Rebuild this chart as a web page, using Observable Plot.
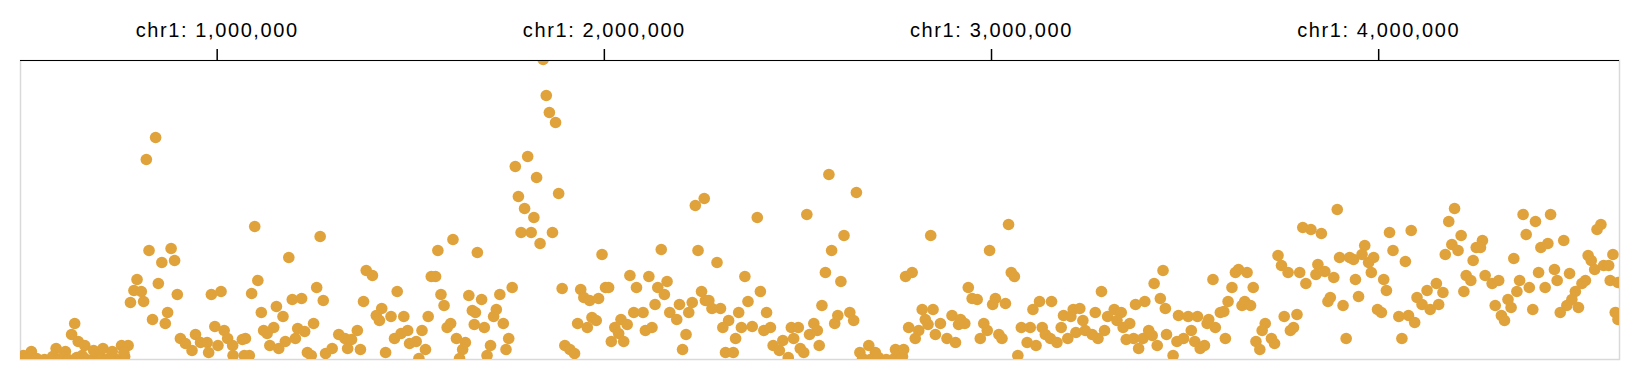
<!DOCTYPE html>
<html>
<head>
<meta charset="utf-8">
<script src="https://cdn.jsdelivr.net/npm/d3@7"></script>
<script src="https://cdn.jsdelivr.net/npm/@observablehq/plot@0.6"></script>
<style>
  html, body { margin: 0; padding: 0; background: #fff; }
  #chart svg { display: block; }
  #chart svg g[aria-label="x-axis tick label"] text { letter-spacing: 1.6px; }
</style>
</head>
<body>
<div id="chart"></div>
<script>
// genomic position (kb on chr1) and signal value for each bin
const points = [
  [841,222],[817,200],[824,109],[881,111],[857,97],[890,99],[793,80],[848,76],[785,69],[804,68],
  [776,57],[810,58],[897,65],[872,47],[833,40],[866,36],[985,65],[1010,68],[1089,66],[632,36],
  [624,25],[641,18],[658,14],[584,11],[608,8],[520,8],[500,4],
  [492,0],[513,2],[534,1],[554,0],[575,3],[596,1],[616,0],[637,2],[658,1],[678,0],[699,2],[720,1],[740,0],[761,3],
  [681,9],[705,11],[729,8],[753,14],[770,14],[759,7],[651,4],[905,21],[918,16],[944,25],
  [935,9],[957,17],[974,17],[978,7],[994,33],[1018,29],[1027,21],[1002,14],[1040,14],[1041,4],
  [1065,20],[1070,4],
  [1097,133],[1266,123],[1185,102],[1105,79],[1114,47],[1153,53],[1170,43],[1194,60],[1218,61],[1257,72],
  [1274,59],[1073,21],[1120,29],[1146,32],[1129,26],[1136,14],[1159,11],[1176,18],[1202,21],[1208,31],
  [1226,28],[1249,36],[1233,7],[1243,4],[1083,4],[1280,6],[1297,11],[1314,25],[1330,21],[1347,20],
  [1337,11],[1362,29],[1370,10],[1385,89],[1401,84],[1378,58],[1425,51],[1411,44],[1419,39],[1449,43],
  [1465,68],[1482,43],[1435,7],[1458,21],[1475,26],[1492,29],[1497,16],[1514,18],[1529,29],[1538,10],
  [1521,1],[1545,43],[1553,83],[1564,83],[1570,109],[1609,120],[1578,65],[1586,54],[1594,32],[1603,36],
  [1618,21],[1641,17],[1634,10],[1626,1],[1650,64],[1659,49],[1664,35],[1672,107],
  [1842,300],[1850,264],[1858,247],[1874,237],[1802,203],[1770,193],[1825,182],[1778,163],[1882,166],[1794,151],
  [1818,142],[1785,127],[1811,127],[1866,127],[1834,116],[1994,105],[2147,110],[2242,109],[2235,154],[2258,161],
  [1683,60],[1730,65],[1762,72],[1721,50],[1714,43],[1667,47],[1690,32],[1739,36],[1753,21],[1706,14],
  [1746,10],[1697,4],[1891,71],[1939,70],[1947,62],[1962,59],[1985,61],[2003,72],[2011,72],[1931,36],
  [1956,32],[1968,42],[1979,39],[1898,14],[1911,10],[1923,6],[2066,84],[2083,72],[2115,83],[2138,72],
  [2162,78],[2155,65],[2131,55],[2076,47],[2100,47],[2043,40],[2027,32],[2059,35],[2037,26],[2018,18],
  [2050,18],[2106,29],[2123,32],[2169,47],[2194,55],[2187,40],[2218,47],[2227,57],[2251,68],[2261,59],
  [2211,25],[2202,10],
  [2580,185],[2651,167],[2395,142],[2523,145],[2619,124],[2587,109],[2843,124],[2291,97],[2363,83],[2571,87],
  [2611,78],[2778,83],[2795,87],[2403,68],[2371,58],[2562,54],[2270,59],[2300,51],[2278,51],[2347,47],
  [2419,47],[2321,39],[2306,32],[2354,32],[2382,33],[2412,29],[2429,32],[2339,21],[2313,7],[2333,7],
  [2436,14],[2452,9],[2461,19],[2489,21],[2483,32],[2501,32],[2475,2],[2506,11],[2515,7],[2530,25],
  [2541,36],[2550,29],[2555,14],[2595,36],[2603,44],[2634,47],[2644,39],[2660,7],[2683,14],[2700,7],
  [2667,1],[2687,0],[2708,2],[2728,0],[2749,1],[2770,3],
  [2752,10],[2773,10],[2821,50],[2849,50],[2829,40],[2786,32],[2812,29],[2803,21],[2836,35],[2855,25],
  [3044,135],[2995,109],[3051,87],[3059,83],[2940,72],[2950,61],[2963,60],[3010,61],[3003,55],[3036,56],
  [2868,36],[2898,44],[2920,40],[2931,36],[2915,35],[2980,36],[2989,29],[2971,21],[3019,25],[3027,21],
  [2885,21],[2907,17],[3068,4],[3077,32],[3100,32],[3092,17],[3115,14],[3107,50],[3124,58],[3155,58],
  [3131,32],[3139,25],[3152,21],[3169,17],[3180,32],[3186,44],[3205,43],[3211,50],[3228,51],[3236,39],
  [3197,21],[3218,27],[3242,29],[3260,25],[3275,21],[3268,47],[3284,68],[3292,29],[3300,43],[3317,50],
  [3335,47],[3324,39],[3340,32],[3357,36],[3348,20],[3367,21],[3380,11],[3391,21],[3406,29],[3415,24],
  [3428,14],[3372,55],[3396,58],[3420,76],[3443,89],[3436,61],[3449,51],[3452,25],
  [3893,150],[3804,132],[3825,130],[3852,126],[4028,127],[4037,109],[3964,114],[3899,102],[3925,102],[3935,100],
  [3957,105],[3974,97],[3987,102],[3740,104],[3749,94],[3766,87],[3796,87],[3812,76],[3843,95],[3838,85],
  [3861,88],[3884,82],[3981,87],[3940,80],[4013,80],[4020,69],[3948,63],[3908,54],[3869,58],[3875,62],
  [3997,50],[4007,47],[3916,21],[3572,80],[3630,87],[3638,90],[3660,87],[3621,72],[3676,72],[3611,58],
  [3647,54],[3654,58],[3669,54],[3591,47],[3600,48],[3561,40],[3557,36],[3578,32],[3604,21],[3483,44],
  [3508,43],[3532,43],[3479,18],[3496,21],[3516,29],[3525,18],[3539,11],[3550,14],[3469,4],[3707,36],
  [3699,29],[3683,18],[3693,10],[3723,21],[3731,16],[3756,43],[3789,45],[3772,29],[3780,32],[4052,43],
  [4196,151],[4181,138],[4213,124],[4189,115],[4205,109],[4172,105],[4373,145],[4405,138],[4444,145],[4381,125],
  [4574,135],[4564,130],[4084,129],[4069,98],[4268,119],[4252,112],[4263,112],[4244,99],[4226,84],[4238,79],
  [4220,68],[4349,101],[4419,112],[4437,116],[4478,119],[4541,104],[4549,99],[4558,90],[4581,94],[4594,94],
  [4605,105],[4598,79],[4618,77],[4275,84],[4293,76],[4310,79],[4364,79],[4389,72],[4357,68],[4413,87],
  [4430,72],[4454,90],[4461,79],[4493,86],[4534,79],[4525,76],[4508,68],[4499,60],[4486,54],[4469,47],
  [4516,52],[4301,54],[4334,60],[4342,52],[4317,44],[4325,39],[4398,50],[4149,76],[4125,69],[4166,67],
  [4099,62],[4112,55],[4133,50],[4155,55],[4077,44],[4093,37],[4060,21],[4611,47],[4618,40]
];

const xDomainKb = [492, 4622];
const yDomain = [0, 299];
const tickPositionsKb = [1000, 2000, 3000, 4000];
const chromosome = "chr1";

const data = points.map(([pos, value]) => ({pos, value}));
const fmt = d3.format(",");

const chart = Plot.plot({
  width: 1644,
  height: 370,
  marginTop: 60,
  marginBottom: 11,
  marginLeft: 20,
  marginRight: 25,
  style: {fontFamily: "'Liberation Sans', Arial, Helvetica, sans-serif", background: "white"},
  x: {domain: xDomainKb, axis: null},
  y: {domain: yDomain, axis: null},
  marks: [
    Plot.frame({stroke: "#d9d9d9", strokeWidth: 1.5}),
    Plot.dot(data, {x: "pos", y: "value", r: 5.8, fill: "#e0a23a", stroke: "none", clip: true}),
    Plot.ruleY([yDomain[1]], {stroke: "black", strokeWidth: 1.2}),
    Plot.axisX({
      anchor: "top",
      ticks: tickPositionsKb,
      tickSize: 12,
      tickPadding: 12,
      stroke: "black",
      strokeWidth: 1.5,
      fill: "black",
      fontSize: 20,
      tickFormat: d => `${chromosome}: ${fmt(d * 1000)}`,
      label: null
    })
  ]
});

document.getElementById("chart").appendChild(chart);
</script>
</body>
</html>
